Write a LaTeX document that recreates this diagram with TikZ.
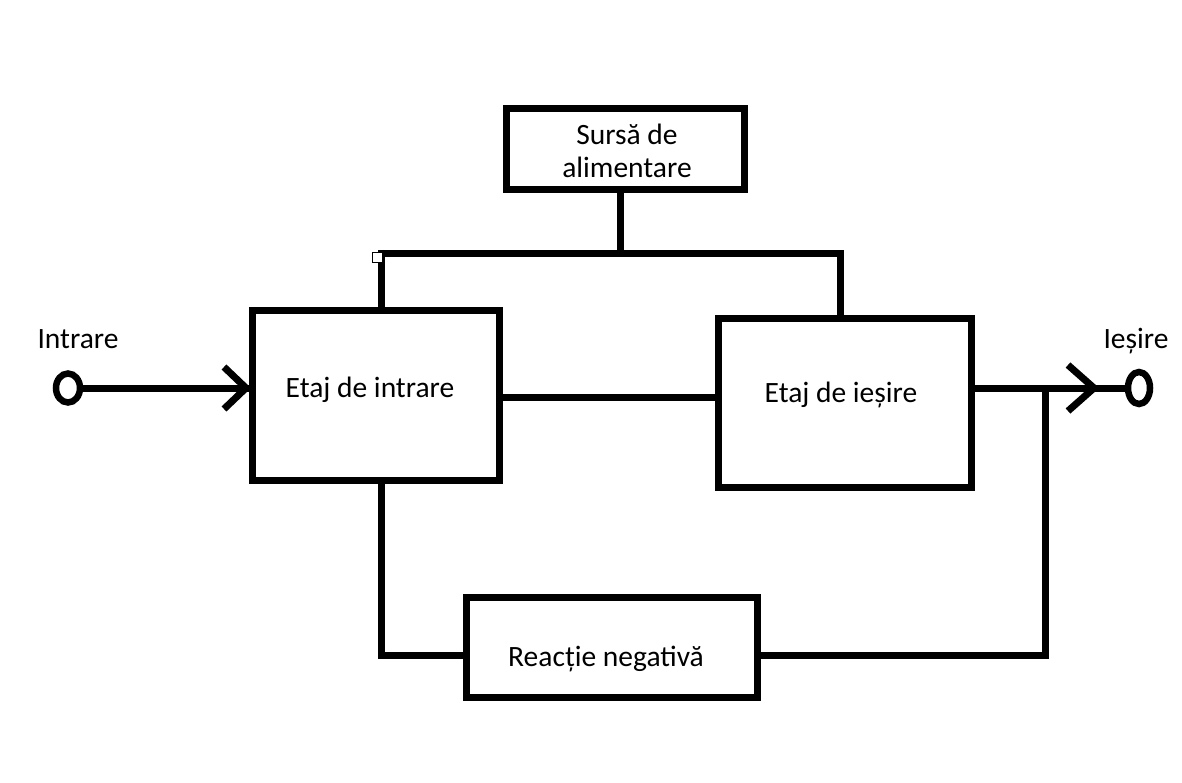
\documentclass[tikz,border=0pt]{standalone}
\usepackage{fontspec}
\setmainfont{Carlito}
\usetikzlibrary{shapes.geometric}
\begin{document}
\begin{tikzpicture}[x=1pt,y=-1pt,
  wire/.style={line width=7pt},
  blockbox/.style={draw,line width=7pt,outer sep=0pt,inner sep=0pt},
  lbl/.style={font=\fontsize{29.5}{33}\selectfont,inner sep=0pt,align=center},
  term/.style={draw,ellipse,line width=6.5pt,inner sep=0pt,outer sep=0pt}]
\useasboundingbox (0,0) rectangle (1182,782);
% blocks
\node[blockbox,minimum width=238pt,minimum height=81pt] (sup) at (625,148.5) {};
\node[blockbox,minimum width=247pt,minimum height=170pt] (bin) at (375.5,395) {};
\node[blockbox,minimum width=253pt,minimum height=169pt] (bout) at (844.5,402.5) {};
\node[blockbox,minimum width=291pt,minimum height=100pt] (fb) at (611.5,647) {};
% terminals
\node[term,minimum width=24pt,minimum height=29pt] (cin) at (68,388) {};
\node[term,minimum width=22pt,minimum height=32pt] (cout) at (1139,388) {};
% labels
\node[lbl] (tsup) at (627,151) {Sursă de\\alimentare};
\node[lbl] (tbin) at (370,390) {Etaj de intrare};
\node[lbl] (tbout) at (841,395) {Etaj de ieșire};
\node[lbl] (tfb) at (606,659) {Reacție negativă};
\node[lbl] (tin) at (78,339) {Intrare};
\node[lbl] (tout) at (1136,341) {Ieșire};
% coordinates
\coordinate (busM) at (620,253);
\coordinate (busL) at (381,253);
\coordinate (busR) at (840,253);
\coordinate (mid) at (600,397);
\coordinate (jct) at (1045,388);
\coordinate (fbY) at (0,655);
\coordinate (tipin) at (246,388);
\coordinate (tipout) at (1094,388);
% power bus
\draw[wire] (sup.south -| busM) -- (busM);
\draw[wire] (bin.north -| busL) -- (busL) -- (busR) -- (bout.north -| busR);
% signal path
\draw[wire] (cin.east) -- (bin.west |- cin.east);
\draw[wire] (bin.east |- mid) -- (bout.west |- mid);
\draw[wire] (cout.west -| bout.east) -- (cout.west);
% feedback
\draw[wire] (jct) -- (jct |- fbY) -- (fb.east |- fbY);
\draw[wire] (fb.west |- fbY) -- (busL |- fbY) -- (busL |- bin.south);
% arrowheads
\draw[wire] ([shift={(-22,21)}]tipin) -- (tipin) -- ([shift={(-22,-21)}]tipin);
\draw[wire] ([shift={(-26,23)}]tipout) -- (tipout) -- ([shift={(-26,-23)}]tipout);
% selection handle
\node[draw,line width=1pt,fill=white,minimum size=10pt,inner sep=0pt] (handle) at (377,257) {};
\end{tikzpicture}
\end{document}
